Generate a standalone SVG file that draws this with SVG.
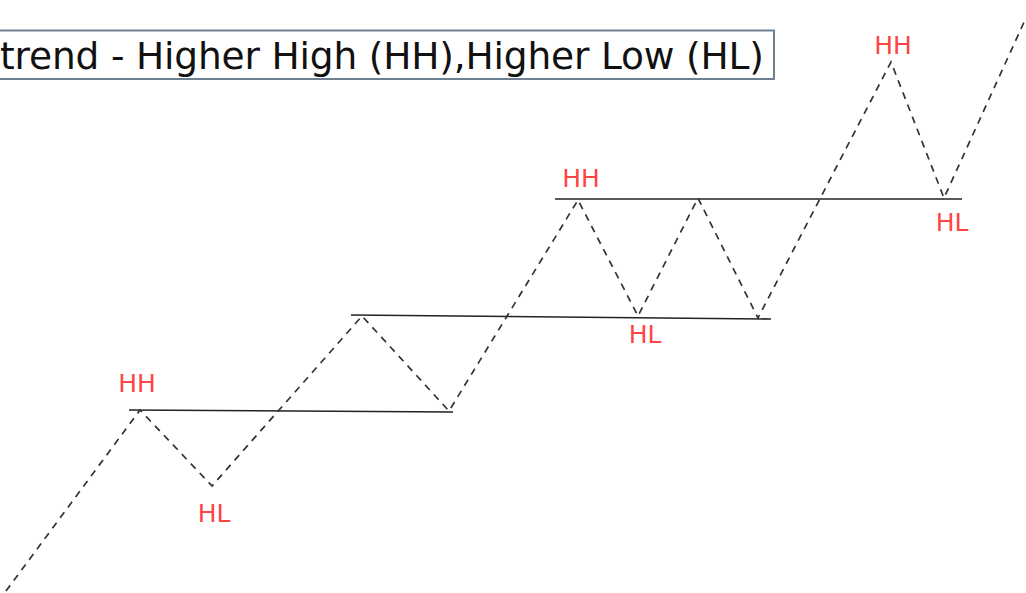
<svg xmlns="http://www.w3.org/2000/svg" width="1026" height="593" viewBox="0 0 1026 593">
<style>
.lvl{stroke:#222;stroke-width:1.6;fill:none}
.zz{stroke:#333;stroke-width:1.7;fill:none;stroke-dasharray:7 6}
.lbl{font-family:"DejaVu Sans",Verdana,sans-serif;font-size:25px;fill:#ff4444;text-anchor:middle}
.title{font-family:"DejaVu Sans",Verdana,sans-serif;font-size:37.5px;fill:#111}
</style>
<rect width="1026" height="593" fill="#fff"/>
<g id="title">
<rect x="-3" y="30.5" width="777" height="48.5" fill="#fff" stroke="#6d8193" stroke-width="2"/>
<text class="title" x="0" y="69" textLength="764" lengthAdjust="spacing">trend - Higher High (HH),Higher Low (HL)</text>
</g>
<g id="connectors">
<line class="lvl" x1="129" y1="410" x2="453" y2="412"/>
<line class="lvl" x1="351" y1="315" x2="771" y2="319"/>
<line class="lvl" x1="555" y1="199" x2="962" y2="199"/>
<polyline class="zz" points="6,591 140,410 212,486 362,316 449,411 578,200 638,316 698,198 758,318 891,62 944,198 1025,20"/>
</g>
<g id="hh1"><text class="lbl" x="137" y="392">HH</text></g>
<g id="hl1"><text class="lbl" x="214" y="522">HL</text></g>
<g id="hh2"><text class="lbl" x="581" y="187">HH</text></g>
<g id="hl2"><text class="lbl" x="645" y="343">HL</text></g>
<g id="hh3"><text class="lbl" x="893" y="54">HH</text></g>
<g id="hl3"><text class="lbl" x="952" y="231">HL</text></g>
</svg>
